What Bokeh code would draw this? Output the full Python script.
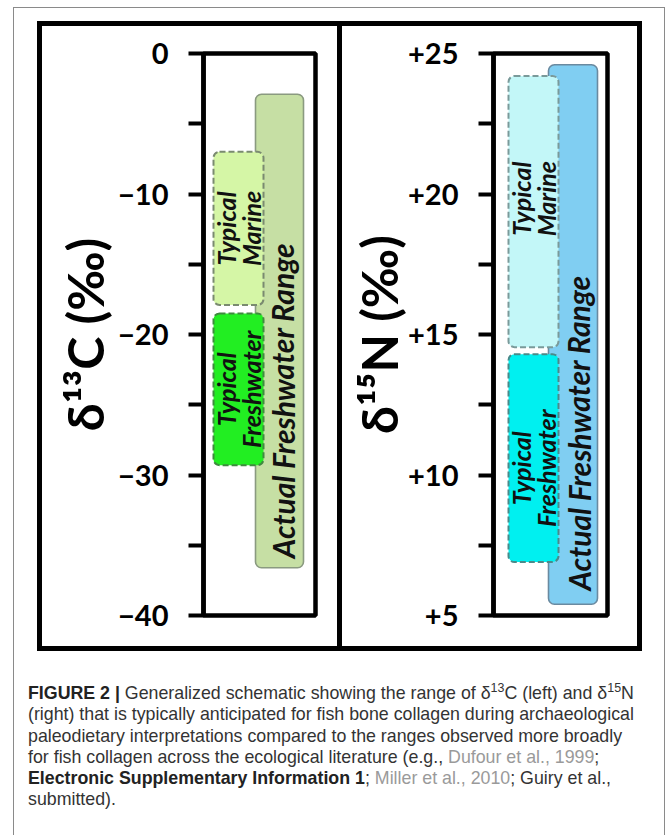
from bokeh.plotting import figure
from bokeh.layouts import row, column
from bokeh.models import Range1d, FixedTicker, Div, ColumnDataSource
from bokeh.core.properties import value
from bokeh.embed import file_html
from bokeh.resources import INLINE

# ---------------- data ----------------
categories = ["Actual Freshwater Range", "Typical Marine", "Typical Freshwater"]
carbon_low = [-36.6, -17.9, -29.3]
carbon_high = [-2.9, -7.0, -18.5]
nitrogen_low = [5.4, 14.55, 6.9]
nitrogen_high = [24.6, 24.2, 14.3]

carbon_ticks = [0, -10, -20, -30, -40]
carbon_tick_labels = ["0", "\u221210", "\u221220", "\u221230", "\u221240"]
carbon_minor = [-5, -15, -25, -35]
nitrogen_ticks = [25, 20, 15, 10, 5]
nitrogen_tick_labels = ["+25", "+20", "+15", "+10", "+5"]
nitrogen_minor = [22.5, 17.5, 12.5, 7.5]

bar_texts = ["Actual Freshwater Range", "Typical\nMarine", "Typical\nFreshwater"]

# ---------------- styles ----------------
FONT = "Lato"
carbon_fill = ["#c6dfa4", "#d5f6a6", "#22ee22"]
carbon_line = ["#8a9a80", "#7a8a70", "#3f8a3f"]
nitrogen_fill = ["#80cef2", "#c3f7f8", "#00f0f0"]
nitrogen_line = ["#6a8aa0", "#7a9a9a", "#4a8a8a"]
dashes = ["solid", "6 3", "6 3"]
line_w = [1.6, 2.0, 2.0]


def panel(low, high, fills, lines, ticks, labels, minor, yr, axis_label,
          frame_w, border_left, border_right, x_typ, x_act, text_x, act_text_y,
          label_standoff, typ_label_shift):
    p = figure(frame_width=frame_w, frame_height=562,
               min_border_left=border_left, min_border_right=border_right,
               min_border_top=27, min_border_bottom=31,
               x_range=Range1d(0, frame_w), y_range=Range1d(*yr),
               x_axis_location=None, toolbar_location=None, tools="",
               output_backend="svg")
    p.grid.visible = False
    p.outline_line_color = "black"
    p.outline_line_width = 4.5
    p.background_fill_color = "white"
    p.border_fill_color = "white"

    ax = p.yaxis[0]
    ax.ticker = FixedTicker(ticks=ticks, minor_ticks=minor)
    ax.major_label_overrides = {t: l for t, l in zip(ticks, labels)}
    ax.axis_line_width = 4.5
    ax.axis_line_color = "black"
    ax.major_tick_out = 15
    ax.major_tick_in = 0
    ax.minor_tick_out = 15
    ax.minor_tick_in = 0
    ax.major_tick_line_width = 4
    ax.minor_tick_line_width = 4
    ax.major_tick_line_color = "black"
    ax.minor_tick_line_color = "black"
    ax.major_label_text_font = FONT
    ax.major_label_text_font_style = "bold"
    ax.major_label_text_font_size = "29px"
    ax.major_label_text_color = "black"
    ax.major_label_standoff = 20
    ax.axis_label = axis_label
    ax.axis_label_text_font = FONT
    ax.axis_label_text_font_style = "bold"
    ax.axis_label_text_font_size = "50px"
    ax.axis_label_text_color = "black"
    ax.axis_label_standoff = label_standoff

    lefts = [x_act[0], x_typ[0], x_typ[0]]
    rights = [x_act[1], x_typ[1], x_typ[1]]
    for i in range(3):
        p.quad(left=lefts[i], right=rights[i], bottom=low[i], top=high[i],
               fill_color=fills[i], line_color=lines[i], line_width=line_w[i],
               line_dash=dashes[i], border_radius=6)

    # labels in the boxes
    typ_cx = (x_typ[0] + x_typ[1]) / 2
    src = ColumnDataSource(dict(
        x=[typ_cx, typ_cx],
        y=[(low[1] + high[1]) / 2 + typ_label_shift[0],
           (low[2] + high[2]) / 2 + typ_label_shift[1]],
        t=[bar_texts[1], bar_texts[2]]))
    p.text(x="x", y="y", text="t", source=src, angle=1.5708,
           text_font=value(FONT), text_font_style="bold italic",
           text_font_size="25px", text_align="center", text_baseline="middle",
           text_line_height=0.86, text_color="#111111")
    p.text(x=[text_x], y=[act_text_y], text=[bar_texts[0]], angle=1.5708,
           text_font=value(FONT), text_font_style="bold italic",
           text_font_size="30px", text_align="center", text_baseline="middle",
           text_color="#111111")
    return p


p1 = panel(carbon_low, carbon_high, carbon_fill, carbon_line, carbon_ticks,
           carbon_tick_labels, carbon_minor, (-40, 0), "\u03b4\u00b9\u00b3C (\u2030)",
           112, 161, 22, (10, 60), (52, 100), 79, -24.7, 0, (0.0, 0.0))
p2 = panel(nitrogen_low, nitrogen_high, nitrogen_fill, nitrogen_line, nitrogen_ticks,
           nitrogen_tick_labels, nitrogen_minor, (5, 25), "\u03b4\u00b9\u2075N (\u2030)",
           114, 151, 30, (15, 65), (55, 104), 85, 11.5, -4, (0.46, -0.36))

divider = Div(width=5, height=620, margin=0, styles={"background-color": "black"})

chart = row(p1, divider, p2, margin=(13, 22, 0, 23),
            styles={"border": "5px solid black"})

caption_html = (
    "<div style=\"font-family:'Liberation Sans',Arial,sans-serif;font-size:17.8px;"
    "line-height:21.3px;color:#333333;white-space:nowrap;margin:0;padding:0\">"
    "<b style='color:#222'>FIGURE 2 |</b> Generalized schematic showing the range of "
    "\u03b4<sup style='font-size:70%;line-height:0'>13</sup>C (left) and "
    "\u03b4<sup style='font-size:70%;line-height:0'>15</sup>N<br>"
    "(right) that is typically anticipated for fish bone collagen during archaeological<br>"
    "paleodietary interpretations compared to the ranges observed more broadly<br>"
    "for fish collagen across the ecological literature (e.g., "
    "<span style='color:#9a9a9a'>Dufour et al., 1999</span>;<br>"
    "<b style='color:#222'>Electronic Supplementary Information 1</b>; "
    "<span style='color:#9a9a9a'>Miller et al., 2010</span>; Guiry et al.,<br>"
    "submitted).</div>"
)
caption = Div(text=caption_html, width=636, margin=(32, 0, 30, 14),
              styles={"white-space": "nowrap", "overflow": "visible"})

layout = column(chart, caption, margin=(7, 0, 0, 13),
                styles={"border": "1px solid #8a8a8a"})

open("out.html", "w").write(file_html(layout, INLINE))
